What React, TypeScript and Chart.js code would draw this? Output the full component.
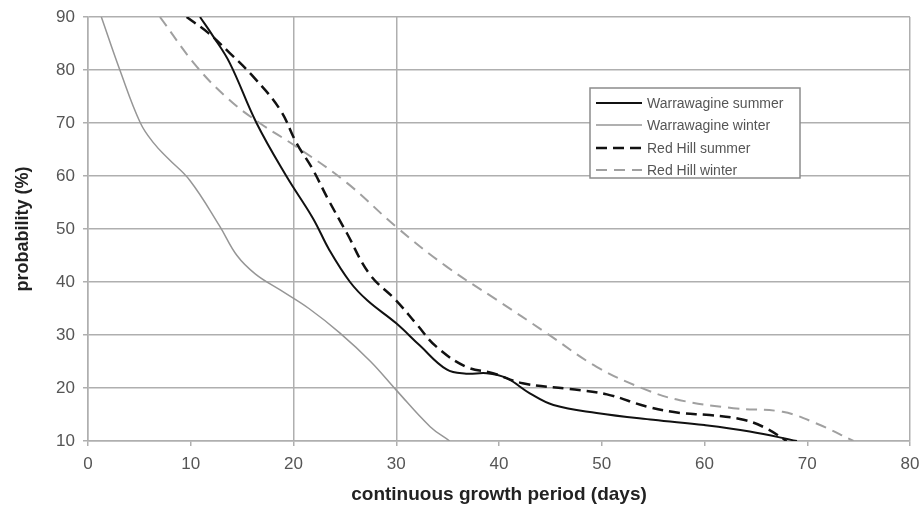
import React, { useEffect, useRef } from "react";
import { Chart, registerables } from "chart.js";

Chart.register(...registerables);

// [days, probability %]
const warrawagineSummer: [number, number][] = [
  [10.9, 90], [12.2, 86.3], [13.8, 81.3], [16.4, 70], [19.3, 60], [21.9, 52], [23.5, 46], [25.5, 40],
  [27.2, 36.5], [30, 32.2], [32.3, 28], [34.9, 23.5], [36.8, 22.7], [38.8, 22.8], [40.7, 21.9],
  [43, 19], [45.3, 16.8], [49.5, 15.3], [55, 14], [60, 13], [64.4, 11.8], [69, 10],
];
const warrawagineWinter: [number, number][] = [
  [1.3, 90], [3.1, 80], [5.1, 70], [6.4, 66.2], [7.8, 63.3], [9.9, 59.2], [12.8, 50.6], [14.5, 45],
  [16.3, 41.5], [18.7, 38.5], [21.5, 35], [24.5, 30.4], [27.5, 25], [30, 19.6], [33.3, 12.7], [35.2, 10],
];
const redHillSummer: [number, number][] = [
  [9.6, 90], [11.7, 87], [13.8, 83.2], [16.1, 78.7], [18.7, 72.5], [20.3, 66.2], [21.8, 61.5],
  [23.4, 55.5], [25.2, 49.2], [27.4, 41.5], [30, 36.5], [32, 32], [33.9, 27.8], [36.8, 24],
  [39.4, 22.8], [42.3, 20.9], [46.9, 19.8], [50.5, 18.8], [54.4, 16.5], [57.6, 15.3], [60.5, 14.9],
  [63.8, 14], [66, 12.4], [68, 10],
];
const redHillWinter: [number, number][] = [
  [7, 90], [10.6, 80.6], [13.8, 74.3], [16.7, 70], [20.3, 65.5], [25.2, 58.7], [30, 50.4],
  [34.9, 42.9], [39.8, 36.6], [44.6, 30.4], [49.5, 24], [54.4, 19.6], [57.6, 17.7], [62.8, 16.2],
  [67.6, 15.5], [70.9, 13.3], [74.5, 10],
];

const seriesNames = ["Warrawagine summer", "Warrawagine winter", "Red Hill summer", "Red Hill winter"];
const xTicks = [0, 10, 20, 30, 40, 50, 60, 70, 80];
const yTicks = [10, 20, 30, 40, 50, 60, 70, 80, 90];
const xGridShown = [0, 20, 30, 80];

const GRID = "rgb(175,175,175)";
const FONT = "Arial, 'Liberation Sans', sans-serif";

const legendPlugin = {
  id: "boxLegend",
  afterDatasetsDraw(chart: any) {
    const ctx = chart.ctx;
    const x0 = 590, y0 = 88, w = 210, h = 90;
    ctx.save();
    ctx.fillStyle = "#ffffff";
    ctx.fillRect(x0, y0, w, h);
    ctx.strokeStyle = "rgb(140,140,140)";
    ctx.lineWidth = 1.5;
    ctx.strokeRect(x0, y0, w, h);
    const rows = [103, 125, 148, 170];
    chart.data.datasets.forEach((ds: any, i: number) => {
      const y = rows[i];
      ctx.beginPath();
      ctx.strokeStyle = ds.borderColor;
      ctx.lineWidth = ds.borderWidth;
      ctx.setLineDash(ds.borderDash || []);
      ctx.moveTo(596, y);
      ctx.lineTo(642, y);
      ctx.stroke();
      ctx.setLineDash([]);
      ctx.fillStyle = "#555";
      ctx.font = "14px " + FONT;
      ctx.textBaseline = "middle";
      ctx.textAlign = "left";
      ctx.fillText(ds.label, 647, y + 1);
    });
    ctx.restore();
  },
};

const toPts = (arr: [number, number][]) => arr.map(([x, y]) => ({ x, y }));

export default function App() {
  const ref = useRef<HTMLCanvasElement | null>(null);
  useEffect(() => {
    if (!ref.current) return;
    const chart = new Chart(ref.current, {
      type: "line",
      data: {
        datasets: [
          { label: seriesNames[0], data: toPts(warrawagineSummer), borderColor: "#111", borderWidth: 2, pointRadius: 0, tension: 0.4 },
          { label: seriesNames[1], data: toPts(warrawagineWinter), borderColor: "rgb(150,150,150)", borderWidth: 1.5, pointRadius: 0, tension: 0.4 },
          { label: seriesNames[2], data: toPts(redHillSummer), borderColor: "#111", borderWidth: 2.5, borderDash: [11, 6], pointRadius: 0, tension: 0.4 },
          { label: seriesNames[3], data: toPts(redHillWinter), borderColor: "rgb(160,160,160)", borderWidth: 2, borderDash: [11, 7], pointRadius: 0, tension: 0.4 },
        ] as any,
      },
      options: {
        animation: false,
        responsive: true,
        maintainAspectRatio: false,
        layout: { padding: { left: 0, right: 13, top: 17, bottom: 0 } },
        plugins: { legend: { display: false }, tooltip: { enabled: false } },
        scales: {
          x: {
            type: "linear",
            min: 0,
            max: 80,
            afterBuildTicks: (s: any) => { s.ticks = xTicks.map((v) => ({ value: v })); },
            afterFit: (s: any) => { s.height = 65; s.paddingLeft = 0; s.paddingRight = 0; },
            grid: {
              color: (c: any) => (xGridShown.includes(c.tick?.value) ? GRID : "rgba(0,0,0,0)"),
              tickColor: GRID,
              tickLength: 5,
              lineWidth: 1.5,
            },
            border: { display: true, color: GRID, width: 1.5 },
            ticks: { color: "#555", font: { family: FONT, size: 17 }, padding: 8, maxRotation: 0 },
            title: {
              display: true,
              text: "continuous growth period (days)",
              color: "#222",
              font: { family: FONT, size: 19, weight: "bold" },
              padding: { top: 0, bottom: 0 },
            },
          },
          y: {
            type: "linear",
            min: 10,
            max: 90,
            afterBuildTicks: (s: any) => { s.ticks = yTicks.map((v) => ({ value: v })); },
            afterFit: (s: any) => { s.width = 88; s.paddingTop = 0; s.paddingBottom = 0; },
            grid: { color: GRID, tickColor: GRID, tickLength: 5, lineWidth: 1.5 },
            border: { display: true, color: GRID, width: 1.5 },
            ticks: { color: "#555", font: { family: FONT, size: 17 }, padding: 8 },
            title: {
              display: true,
              text: "probability (%)",
              color: "#222",
              font: { family: FONT, size: 18, weight: "bold" },
              padding: { top: 12, bottom: 0 },
            },
          },
        },
      } as any,
      plugins: [legendPlugin],
    });
    return () => chart.destroy();
  }, []);
  return (
    <div style={{ position: "absolute", left: 0, top: 0, width: 923, height: 506, background: "#fff" }}>
      <canvas ref={ref} />
    </div>
  );
}
